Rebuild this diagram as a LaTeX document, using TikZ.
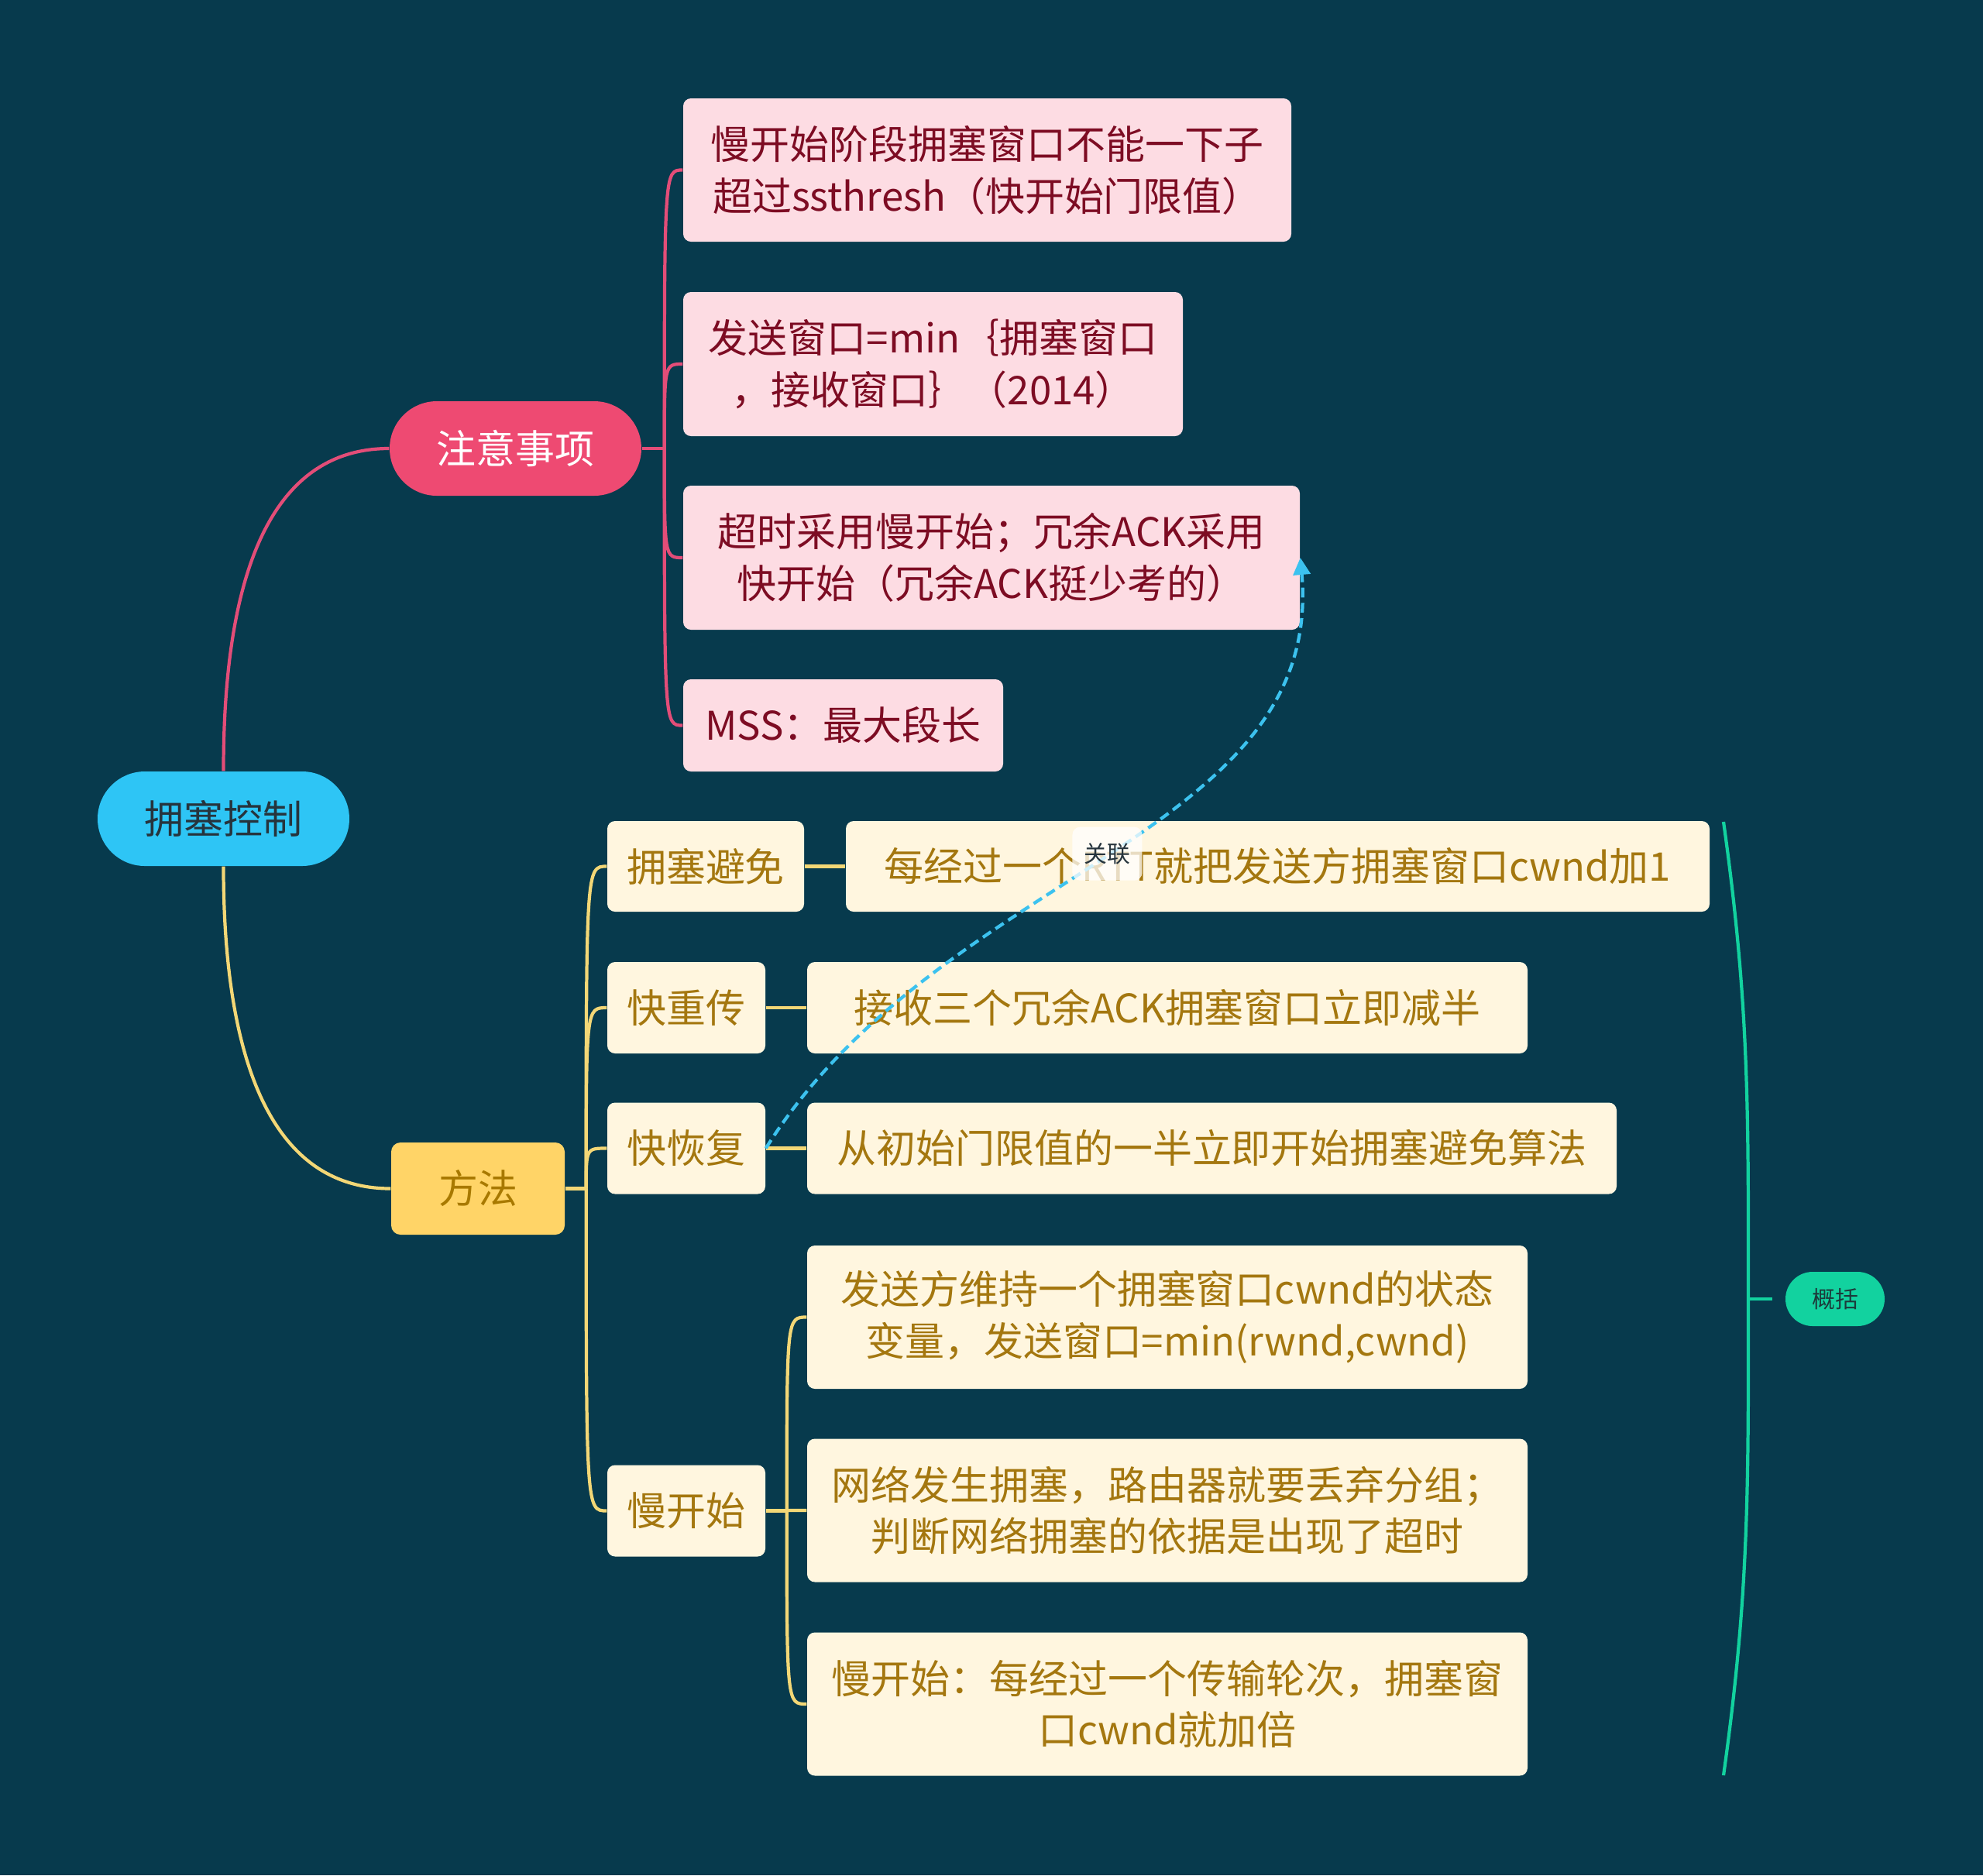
\documentclass[tikz,border=0pt]{standalone}
\usepackage{fontspec}
\setmainfont{Noto Sans CJK SC}
\usetikzlibrary{arrows.meta,shapes.misc}

\definecolor{bgcol}{HTML}{073A4D}
\definecolor{rootblue}{HTML}{2EC5F5}
\definecolor{roottext}{HTML}{26343D}
\definecolor{zyred}{HTML}{EE4A72}
\definecolor{pinkfill}{HTML}{FDDCE3}
\definecolor{pinktext}{HTML}{7D0C23}
\definecolor{pinkline}{HTML}{E34D78}
\definecolor{ffyellow}{HTML}{FFD467}
\definecolor{fftext}{HTML}{A87900}
\definecolor{yline}{HTML}{F3D776}
\definecolor{cream}{HTML}{FFF6DF}
\definecolor{goldtext}{HTML}{A4770F}
\definecolor{sumgreen}{HTML}{12D29F}
\definecolor{sumtext}{HTML}{1C3B3B}
\definecolor{relblue}{HTML}{3CC2EF}

\tikzset{
  every node/.style={inner sep=0pt, align=center, font=\fontsize{14.5}{19}\selectfont},
  pill/.style={rounded rectangle, minimum width=3.25cm, minimum height=1.22cm},
  pinkbox/.style={fill=pinkfill, text=pinktext, rounded corners=1mm},
  methbox/.style={fill=cream, text=goldtext, rounded corners=1mm},
  pinkconn/.style={draw=pinkline, line width=1.2pt},
  yconn/.style={draw=yline, line width=1.2pt},
  sumline/.style={draw=sumgreen, line width=1.2pt},
  relarrow/.style={draw=relblue, line width=1.2pt, dash pattern=on 3.6pt off 2pt,
    -{Triangle[length=2.2mm,width=2.2mm]}},
  relbox/.style={fill=white, fill opacity=0.75, text opacity=1, text=roottext,
    rounded corners=1mm, minimum width=0.9cm, minimum height=0.69cm,
    font=\fontsize{8.5}{10}\selectfont}
}

\begin{document}
\begin{tikzpicture}
  \fill[bgcol] (0,0) rectangle (25.6,-24.21);
  \useasboundingbox (0,0) rectangle (25.6,-24.21);

  \node[pill, fill=rootblue, text=roottext] (root) at (2.885,-10.57) {拥塞控制};
  \node[pill, fill=zyred, text=white] (zy) at (6.655,-5.79) {注意事项};
  \node[fill=ffyellow, text=fftext, rounded corners=1.2mm, minimum width=2.24cm, minimum height=1.19cm] (ff) at (6.17,-15.345) {方法};

  \node[pinkbox, minimum width=7.85cm, minimum height=1.85cm] (p1) at (12.745,-2.195) {慢开始阶段拥塞窗口不能一下子\\超过ssthresh（快开始门限值）};
  \node[pinkbox, minimum width=6.45cm, minimum height=1.86cm] (p2) at (12.045,-4.70) {发送窗口=min｛拥塞窗口\\，接收窗口｝（2014）};
  \node[pinkbox, minimum width=7.96cm, minimum height=1.86cm] (p3) at (12.80,-7.20) {超时采用慢开始；冗余ACK采用\\快开始（冗余ACK挺少考的）};
  \node[pinkbox, minimum width=4.13cm, minimum height=1.19cm] (p4) at (10.885,-9.365) {MSS：最大段长};

  \node[methbox, minimum width=2.54cm, minimum height=1.17cm] (m1) at (9.11,-11.185) {拥塞避免};
  \node[methbox, minimum width=2.04cm, minimum height=1.18cm] (m2) at (8.86,-13.01) {快重传};
  \node[methbox, minimum width=2.04cm, minimum height=1.18cm] (m3) at (8.86,-14.825) {快恢复};
  \node[methbox, minimum width=2.04cm, minimum height=1.18cm] (m4) at (8.86,-19.505) {慢开始};

  \node[methbox, minimum width=11.15cm, minimum height=1.17cm] (d1) at (16.495,-11.185) {每经过一个RTT就把发送方拥塞窗口cwnd加1};
  \node[methbox, minimum width=9.30cm, minimum height=1.18cm] (d2) at (15.07,-13.01) {接收三个冗余ACK拥塞窗口立即减半};
  \node[methbox, minimum width=10.45cm, minimum height=1.18cm] (d3) at (15.645,-14.825) {从初始门限值的一半立即开始拥塞避免算法};
  \node[methbox, minimum width=9.30cm, minimum height=1.85cm] (d4) at (15.07,-17.005) {发送方维持一个拥塞窗口cwnd的状态\\变量，发送窗口=min(rwnd,cwnd)};
  \node[methbox, minimum width=9.30cm, minimum height=1.85cm] (d5) at (15.07,-19.50) {网络发生拥塞，路由器就要丢弃分组；\\判断网络拥塞的依据是出现了超时};
  \node[methbox, minimum width=9.30cm, minimum height=1.85cm] (d6) at (15.07,-22.00) {慢开始：每经过一个传输轮次，拥塞窗\\口cwnd就加倍};

  \node[rounded rectangle, fill=sumgreen, text=sumtext, minimum width=1.28cm, minimum height=0.70cm,
    font=\fontsize{8.5}{10}\selectfont] (sum) at (23.69,-16.77) {概括};

  \draw[pinkconn] (root.north) to[out=90,in=180] (zy.west);
  \draw[yconn] (root.south) to[out=-90,in=180] (ff.west);

  \draw[pinkconn] (zy.east) -- ++(0.29,0) coordinate (zyfork);
  \foreach \b in {p1,p2,p3,p4}
    \draw[pinkconn] (zyfork) .. controls (zyfork |- \b.west) .. (\b.west);

  \draw[yconn] (ff.east) -- ++(0.27,0) coordinate (fffork);
  \foreach \b in {m1,m2,m3,m4}
    \draw[yconn] (fffork) .. controls (fffork |- \b.west) .. (\b.west);

  \draw[yconn] (m1.east) -- (d1.west);
  \draw[yconn] (m2.east) -- (d2.west);
  \draw[yconn] (m3.east) -- (d3.west);
  \draw[yconn] (m4.east) -- ++(0.27,0) coordinate (m4fork);
  \foreach \b in {d4,d5,d6}
    \draw[yconn] (m4fork) .. controls (m4fork |- \b.west) .. (\b.west);

  \coordinate (sumtop) at (22.25,-10.61);
  \coordinate (summid) at (22.57,-16.77);
  \coordinate (sumbot) at (22.25,-22.92);
  \draw[sumline] (sumtop) to[out=-82,in=90] (summid) to[out=-90,in=82] (sumbot);
  \draw[sumline] (summid) -- ([xshift=-1.6mm]sum.west);

  \draw[relarrow] (m3.east) to[out=58,in=-85,out looseness=1.05,in looseness=0.9]
    node[relbox, pos=0.5] (rel) {关联} (p3.east);
\end{tikzpicture}
\end{document}
